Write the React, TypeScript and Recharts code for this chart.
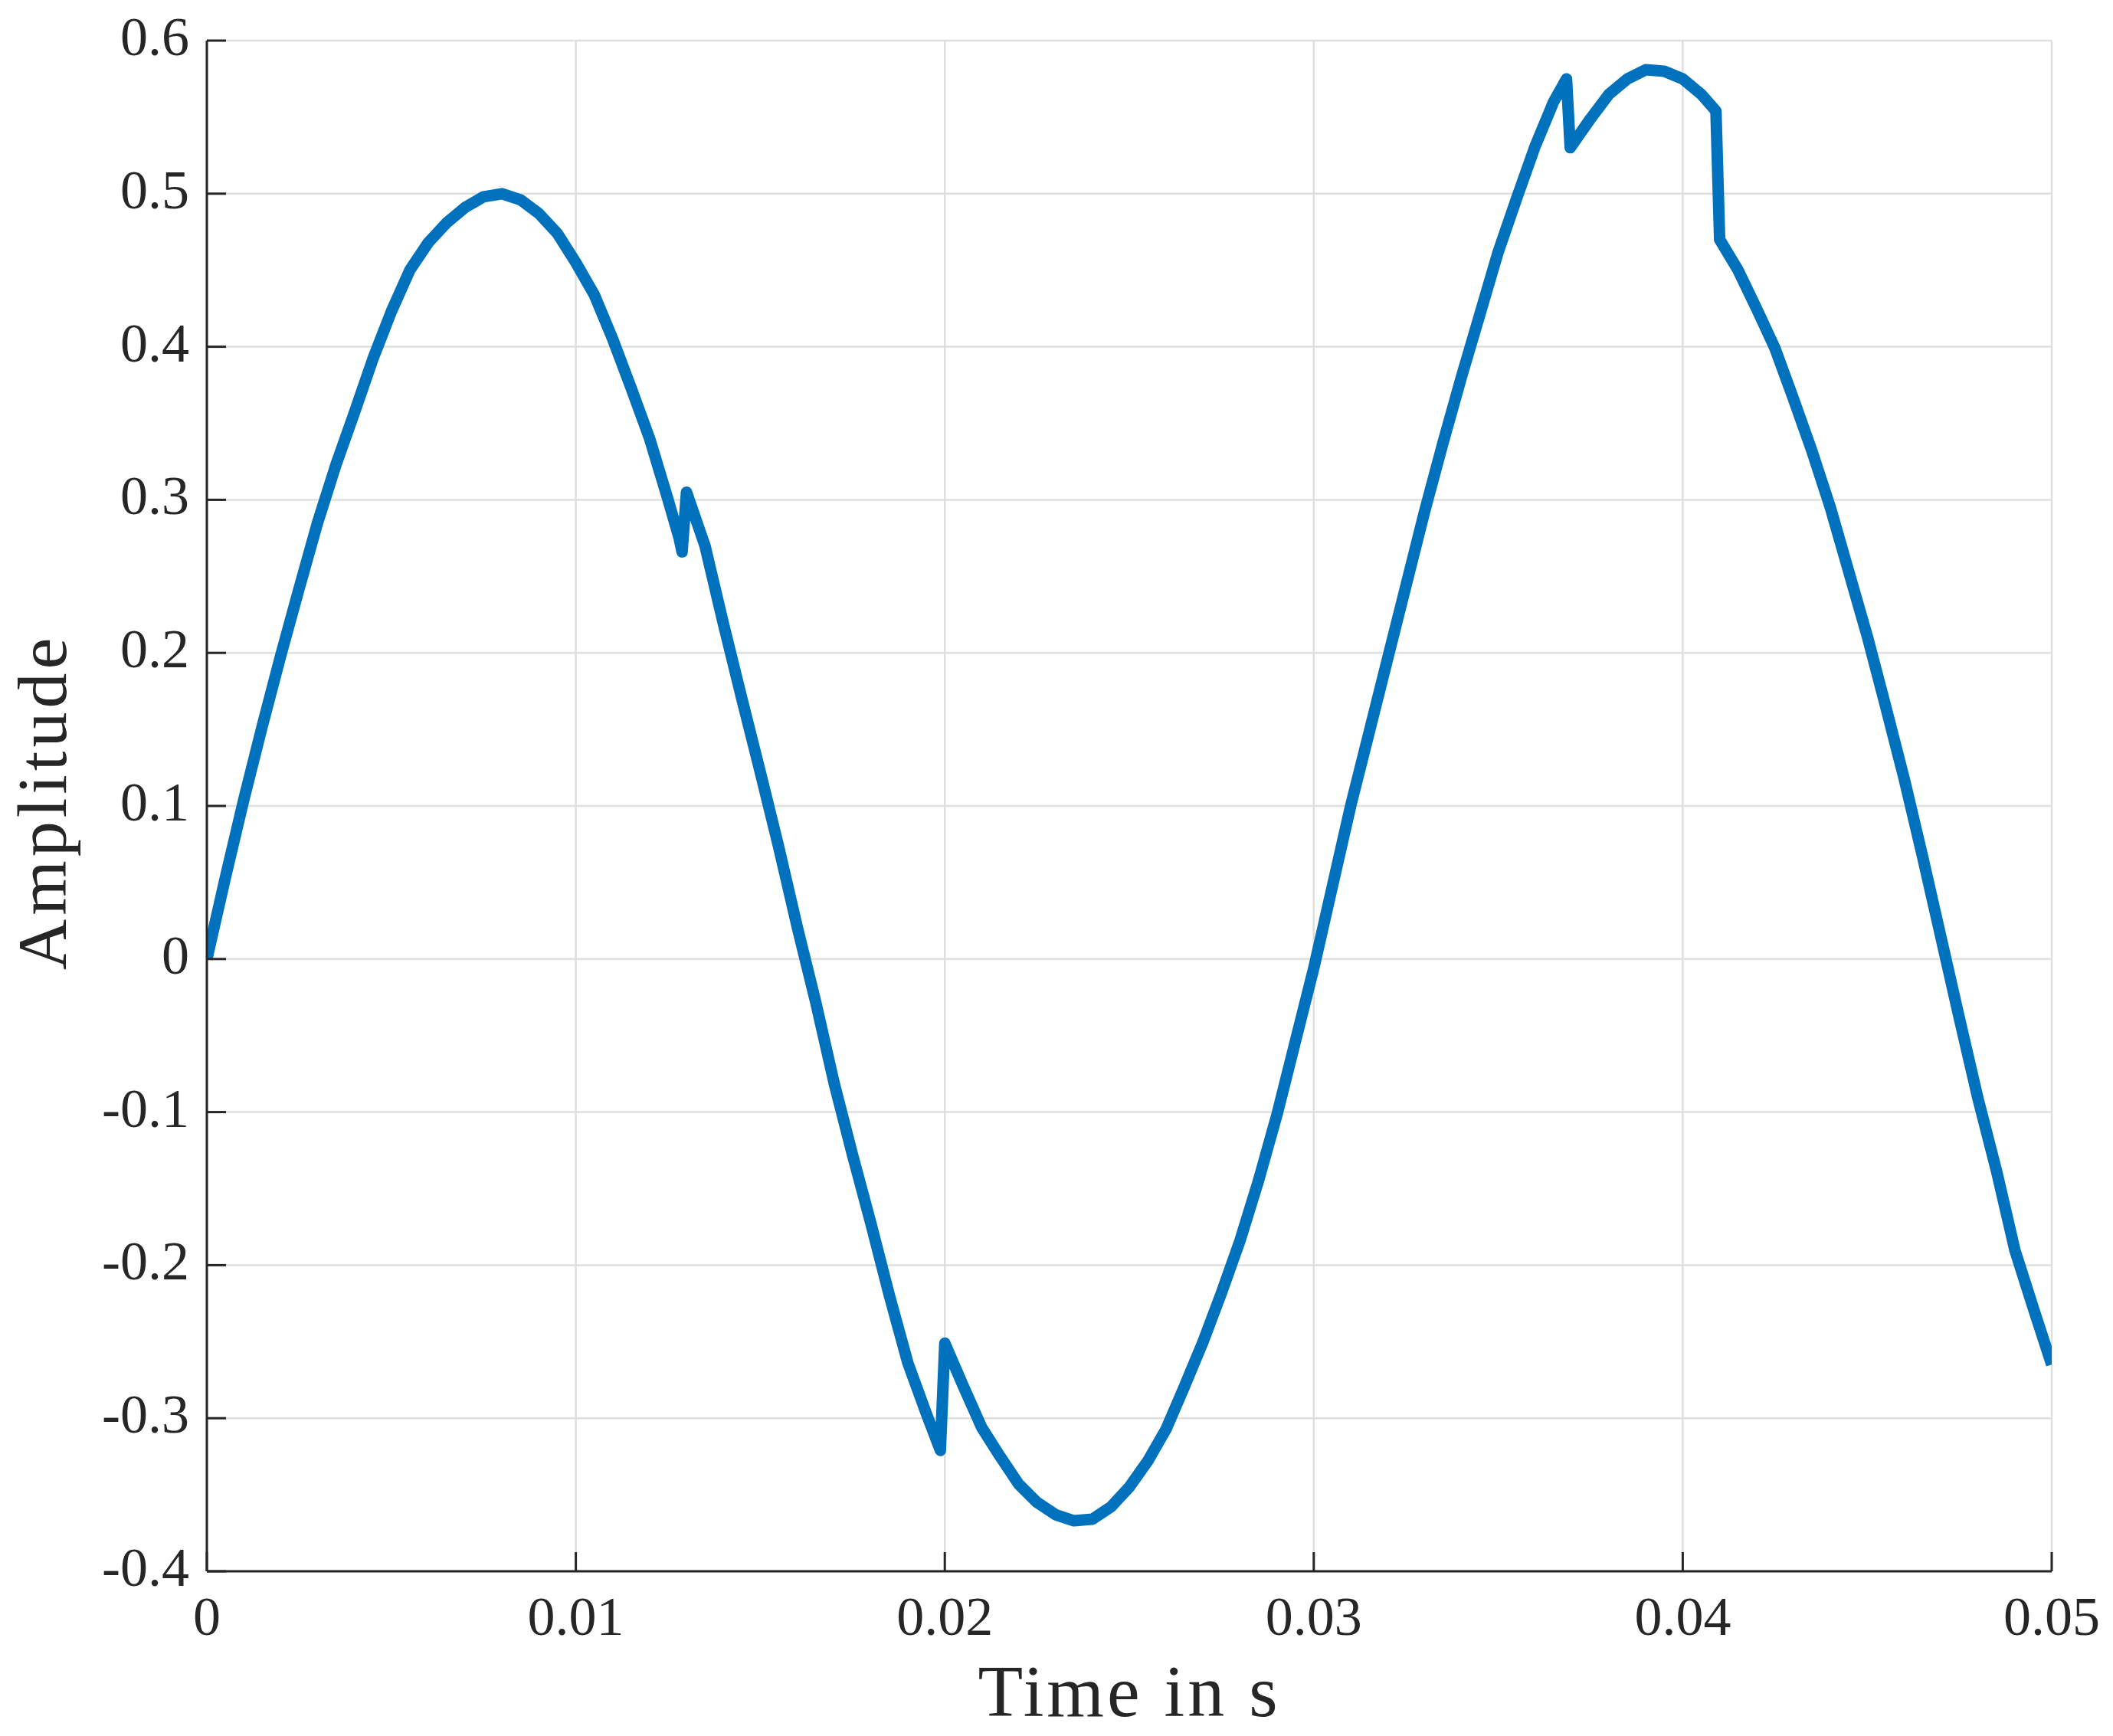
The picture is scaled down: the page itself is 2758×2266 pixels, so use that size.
import { LineChart, Line, XAxis, YAxis, CartesianGrid } from "recharts";

const TIME = [
  0, 0.0005, 0.001, 0.0015, 0.002, 0.0025, 0.003, 0.0035, 0.004, 0.0045,
  0.005, 0.0055, 0.006, 0.0065, 0.007, 0.0075, 0.008, 0.0085, 0.009, 0.0095,
  0.01, 0.0105, 0.011, 0.0115, 0.012, 0.0125, 0.0128, 0.01288, 0.013, 0.0135,
  0.014, 0.0145, 0.015, 0.0155, 0.016, 0.0165, 0.017, 0.0175, 0.018, 0.0185,
  0.019, 0.0195, 0.01988, 0.02, 0.0205, 0.021, 0.0215, 0.022, 0.0225, 0.023,
  0.0235, 0.024, 0.0245, 0.025, 0.0255, 0.026, 0.0265, 0.027, 0.0275, 0.028,
  0.0285, 0.029, 0.0295, 0.03, 0.0305, 0.031, 0.0315, 0.032, 0.0325, 0.033,
  0.0335, 0.034, 0.0345, 0.035, 0.0355, 0.036, 0.0365, 0.03685, 0.03695, 0.0375,
  0.038, 0.0385, 0.039, 0.0395, 0.04, 0.0405, 0.0409, 0.041, 0.0415, 0.042,
  0.0425, 0.043, 0.0435, 0.044, 0.0445, 0.045, 0.0455, 0.046, 0.0465, 0.047,
  0.0475, 0.048, 0.0485, 0.049, 0.0495, 0.05,
];

const AMPLITUDE = [
  0, 0.053, 0.104, 0.152, 0.198, 0.242, 0.285, 0.323, 0.357, 0.392,
  0.423, 0.45, 0.468, 0.481, 0.491, 0.498, 0.5, 0.496, 0.487, 0.474,
  0.455, 0.434, 0.405, 0.373, 0.34, 0.3, 0.275, 0.266, 0.305, 0.27,
  0.219, 0.17, 0.122, 0.073, 0.021, -0.028, -0.081, -0.128, -0.173, -0.22,
  -0.264, -0.297, -0.321, -0.251, -0.279, -0.306, -0.325, -0.343, -0.355, -0.363,
  -0.367, -0.366, -0.358, -0.345, -0.328, -0.307, -0.279, -0.25, -0.218, -0.184,
  -0.145, -0.102, -0.054, -0.006, 0.047, 0.1, 0.148, 0.196, 0.244, 0.292,
  0.337, 0.38, 0.421, 0.462, 0.497, 0.531, 0.56, 0.575, 0.53, 0.549,
  0.565, 0.575, 0.581, 0.58, 0.575, 0.565, 0.554, 0.47, 0.45, 0.425,
  0.399, 0.366, 0.332, 0.295, 0.253, 0.211, 0.165, 0.118, 0.067, 0.014,
  -0.039, -0.091, -0.138, -0.19, -0.228, -0.265,
];

const X_TICKS = [0, 0.01, 0.02, 0.03, 0.04, 0.05];
const X_TICK_LABELS = ["0", "0.01", "0.02", "0.03", "0.04", "0.05"];
const Y_TICKS = [-0.4, -0.3, -0.2, -0.1, 0, 0.1, 0.2, 0.3, 0.4, 0.5, 0.6];
const Y_TICK_LABELS = ["-0.4", "-0.3", "-0.2", "-0.1", "0", "0.1", "0.2", "0.3", "0.4", "0.5", "0.6"];

const X_LABEL = "Time in s";
const Y_LABEL = "Amplitude";

const data = TIME.map((t, i) => ({ t, v: AMPLITUDE[i] }));

// full page, the wrapper cancels the 8px body margin
const W = 2758;
const H = 2266;
const INK = "#262626";
const FONT = "'Liberation Serif', 'Times New Roman', serif";
const TICK_LEN = 25;

const BottomTick = ({ x, y, index }: any) => (
  <g>
    <line x1={x} y1={y} x2={x} y2={y - TICK_LEN} stroke={INK} strokeWidth={3} />
    <text x={x} y={y + 83} textAnchor="middle" fontSize={72} fontFamily={FONT} fill={INK}>
      {X_TICK_LABELS[index]}
    </text>
  </g>
);

const LeftTick = ({ x, y, index }: any) => (
  <g>
    <line x1={x} y1={y} x2={x + TICK_LEN} y2={y} stroke={INK} strokeWidth={3} />
    <text x={x - 23} y={y + 19} textAnchor="end" fontSize={72} fontFamily={FONT} fill={INK}>
      {Y_TICK_LABELS[index]}
    </text>
  </g>
);

const TopTick = ({ x, y }: any) => (
  <line x1={x} y1={y} x2={x} y2={y + TICK_LEN} stroke={INK} strokeWidth={3} />
);

const RightTick = ({ x, y }: any) => (
  <line x1={x} y1={y} x2={x - TICK_LEN} y2={y} stroke={INK} strokeWidth={3} />
);

export default function App() {
  return (
    <div style={{ margin: -8, width: W, height: H, background: "#fff" }}>
      <LineChart width={W} height={H} data={data} margin={{ top: 53, right: 80, left: 0, bottom: 0 }}>
        <CartesianGrid stroke="#dfdfdf" strokeWidth={2.5} />
        <XAxis
          dataKey="t"
          type="number"
          domain={[0, 0.05]}
          ticks={X_TICKS}
          interval={0}
          allowDataOverflow
          height={215}
          tickSize={0}
          tickMargin={0}
          tickLine={false}
          tick={<BottomTick />}
          axisLine={{ stroke: INK, strokeWidth: 3 }}
          label={{
            content: () => (
              <text x={1474} y={2240} textAnchor="middle" fontSize={96} letterSpacing={4} fontFamily={FONT} fill={INK}>
                {X_LABEL}
              </text>
            ),
          }}
        />
        <XAxis
          xAxisId="top"
          orientation="top"
          dataKey="t"
          type="number"
          domain={[0, 0.05]}
          ticks={X_TICKS}
          interval={0}
          allowDataOverflow
          height={0}
          tickSize={0}
          tickMargin={0}
          tickLine={false}
          tick={<TopTick />}
          axisLine={{ stroke: INK, strokeWidth: 3 }}
        />
        <YAxis
          type="number"
          domain={[-0.4, 0.6]}
          ticks={Y_TICKS}
          interval={0}
          allowDataOverflow
          width={270}
          tickSize={0}
          tickMargin={0}
          tickLine={false}
          tick={<LeftTick />}
          axisLine={{ stroke: INK, strokeWidth: 3 }}
          label={{
            content: () => (
              <text
                transform="translate(86,1047) rotate(-90)"
                textAnchor="middle"
                fontSize={92}
                letterSpacing={5}
                fontFamily={FONT}
                fill={INK}
              >
                {Y_LABEL}
              </text>
            ),
          }}
        />
        <YAxis
          yAxisId="right"
          orientation="right"
          type="number"
          domain={[-0.4, 0.6]}
          ticks={Y_TICKS}
          interval={0}
          allowDataOverflow
          width={0}
          tickSize={0}
          tickMargin={0}
          tickLine={false}
          tick={<RightTick />}
          axisLine={{ stroke: INK, strokeWidth: 3 }}
        />
        <Line
          type="linear"
          dataKey="v"
          stroke="#0072BD"
          strokeWidth={15}
          dot={false}
          activeDot={false}
          strokeLinejoin="round"
          isAnimationActive={false}
        />
      </LineChart>
    </div>
  );
}
